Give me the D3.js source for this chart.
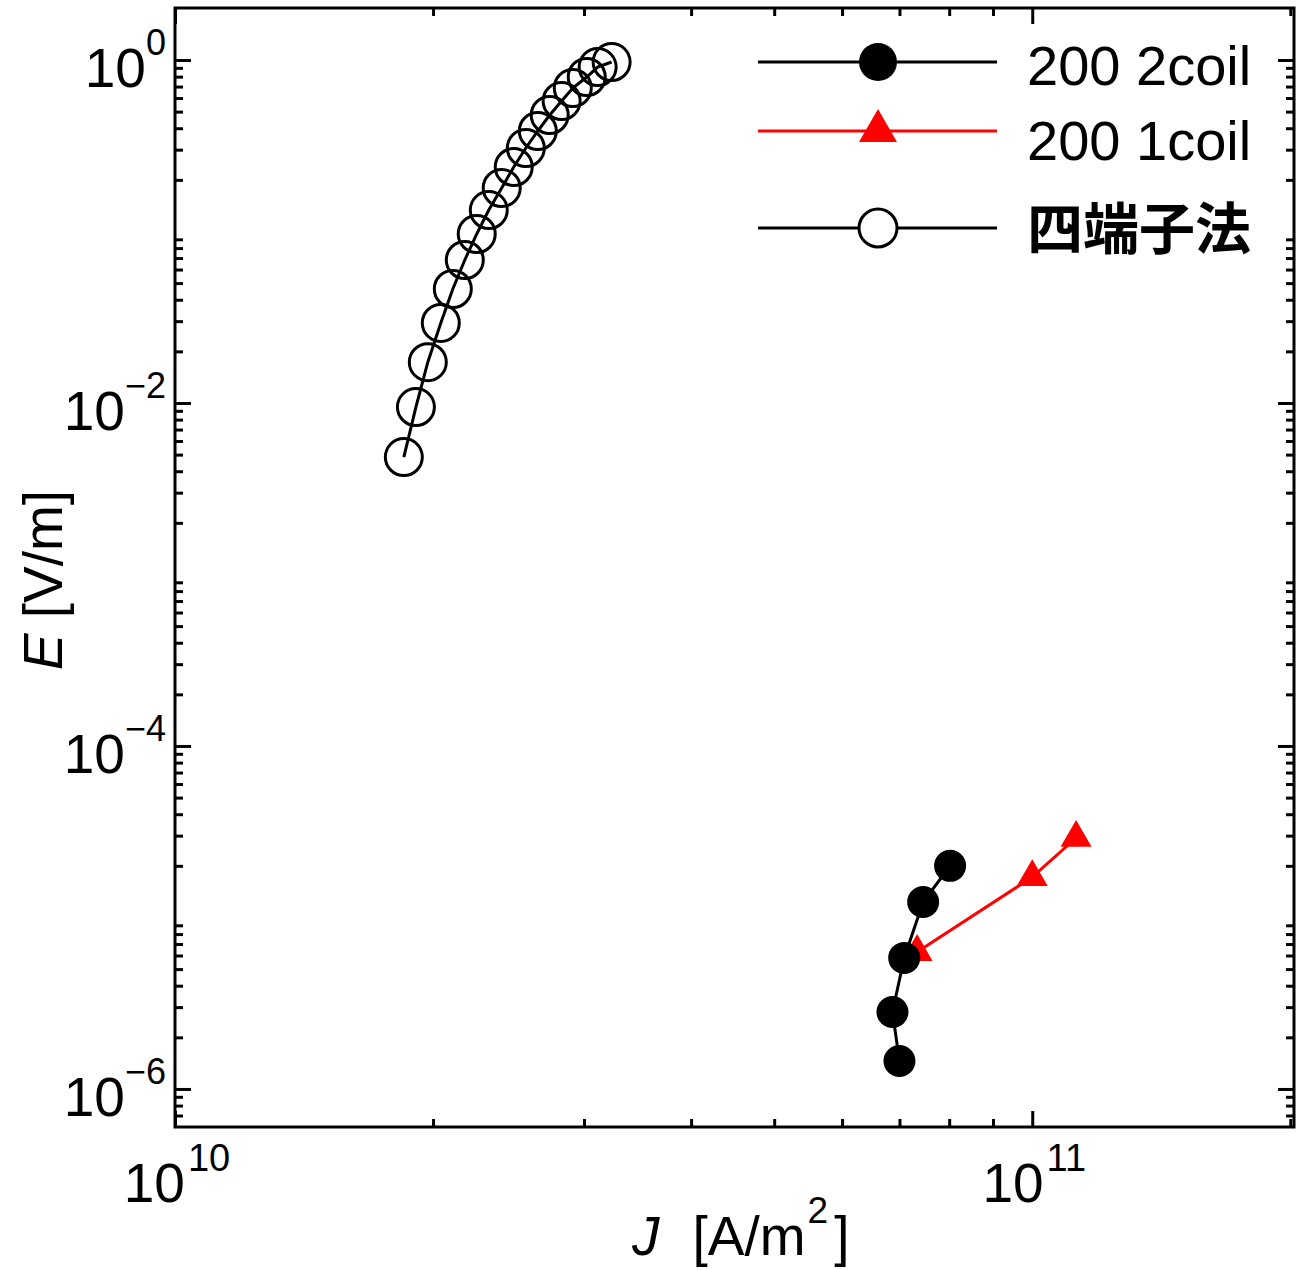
<!DOCTYPE html>
<html>
<head>
<meta charset="utf-8">
<script src="https://cdn.jsdelivr.net/npm/d3@7"></script>
<style>
  html, body { margin: 0; padding: 0; background: #fff; }
  svg { display: block; }
  text { font-family: "Liberation Sans", Arial, sans-serif; fill: #000; }
</style>
</head>
<body>
<svg id="chart" width="1300" height="1270"></svg>
<script>
// ---- data ----
const fourProbeJ = [1.849e10, 1.910e10, 1.972e10, 2.042e10, 2.109e10, 2.178e10, 2.249e10, 2.323e10, 2.405e10,
                    2.484e10, 2.566e10, 2.650e10, 2.736e10, 2.825e10, 2.911e10, 3.022e10, 3.112e10, 3.231e10];
const fourProbeE = [4.84e-3, 9.47e-3, 1.73e-2, 2.93e-2, 4.62e-2, 6.82e-2, 9.67e-2, 0.1334, 0.1793,
                    0.2377, 0.3068, 0.3855, 0.4778, 0.5767, 0.6866, 0.796, 0.910, 0.973];
const coil2J = [7.00e10, 6.87e10, 7.09e10, 7.46e10, 8.02e10];
const coil2E = [1.456e-6, 2.81e-6, 5.81e-6, 1.23e-5, 2.00e-5];
const coil1J = [7.34e10, 1.00e11, 1.125e11];
const coil1E = [6.29e-6, 1.72e-5, 2.91e-5];

const seriesNames = ["200 2coil", "200 1coil", "四端子法"];
const xMajorTicks = [1e10, 1e11];
const xTickExp = ["10", "11"];
const yMajorTicks = [1, 1e-2, 1e-4, 1e-6];
const yTickExp = ["0", "\u22122", "\u22124", "\u22126"];
const xDomain = [1e10, 2.02e11];
const yDomain = [6e-7, 2.01];

// ---- layout ----
const L = 175, R = 1294, T = 8, B = 1127;
const svg = d3.select("#chart");
const x = d3.scaleLog().domain(xDomain).range([L, R]);
const y = d3.scaleLog().domain(yDomain).range([B, T]);

// minor ticks
function minorTicks(dom) {
  const out = [];
  const lo = Math.floor(Math.log10(dom[0])), hi = Math.ceil(Math.log10(dom[1]));
  for (let e = lo; e <= hi; e++) {
    for (let k = 2; k <= 9; k++) {
      const v = k * Math.pow(10, e);
      if (v > dom[0] * 1.001 && v < dom[1] * 0.995) out.push(v);
    }
  }
  return out;
}
const xMinor = minorTicks(xDomain);
const yMinor = minorTicks(yDomain);

function styleAxis(g) {
  g.select(".domain").remove();
  g.selectAll(".tick line").attr("stroke", "#000").attr("stroke-width", 3);
  g.selectAll(".tick text").remove();
}

// bottom
svg.append("g").attr("transform", `translate(0,${B})`)
  .call(d3.axisBottom(x).tickValues(xMajorTicks).tickSize(-16).tickFormat("")).call(styleAxis);
svg.append("g").attr("transform", `translate(0,${B})`)
  .call(d3.axisBottom(x).tickValues(xMinor).tickSize(-8).tickFormat("")).call(styleAxis);
// top
svg.append("g").attr("transform", `translate(0,${T})`)
  .call(d3.axisTop(x).tickValues(xMajorTicks).tickSize(-16).tickFormat("")).call(styleAxis);
svg.append("g").attr("transform", `translate(0,${T})`)
  .call(d3.axisTop(x).tickValues(xMinor).tickSize(-8).tickFormat("")).call(styleAxis);
// left
svg.append("g").attr("transform", `translate(${L},0)`)
  .call(d3.axisLeft(y).tickValues(yMajorTicks).tickSize(-16).tickFormat("")).call(styleAxis);
svg.append("g").attr("transform", `translate(${L},0)`)
  .call(d3.axisLeft(y).tickValues(yMinor).tickSize(-8).tickFormat("")).call(styleAxis);
// right
svg.append("g").attr("transform", `translate(${R},0)`)
  .call(d3.axisRight(y).tickValues(yMajorTicks).tickSize(-16).tickFormat("")).call(styleAxis);
svg.append("g").attr("transform", `translate(${R},0)`)
  .call(d3.axisRight(y).tickValues(yMinor).tickSize(-8).tickFormat("")).call(styleAxis);

// frame
svg.append("rect").attr("x", L).attr("y", T).attr("width", R - L).attr("height", B - T)
  .attr("fill", "none").attr("stroke", "#000").attr("stroke-width", 3);

// tick labels
const yl = svg.append("g");
yMajorTicks.forEach((v, i) => {
  const t = yl.append("text").attr("x", 166).attr("y", y(v) + 27).attr("text-anchor", "end");
  t.append("tspan").attr("font-size", 55).text("10");
  t.append("tspan").attr("font-size", 36).attr("dy", -32).text(yTickExp[i]);
});
const xl = svg.append("g");
xMajorTicks.forEach((v, i) => {
  const t = xl.append("text").attr("x", x(v) + 2).attr("y", B + 75).attr("text-anchor", "middle");
  t.append("tspan").attr("font-size", 55).text("10");
  t.append("tspan").attr("font-size", 38).attr("dx", 3).attr("dy", -31).text(xTickExp[i]);
});

// axis titles
const xt = svg.append("text").attr("x", 632).attr("y", 1255).attr("font-size", 55);
xt.append("tspan").attr("font-style", "italic").text("J");
xt.append("tspan").attr("dx", 33).text("[A/m");
xt.append("tspan").attr("font-size", 37).attr("dx", 2).attr("dy", -32).text("2");
xt.append("tspan").attr("dx", 6).attr("dy", 32).text("]");

const yt = svg.append("text").attr("transform", "translate(62,580) rotate(-90)")
  .attr("text-anchor", "middle").attr("font-size", 55);
yt.append("tspan").attr("font-style", "italic").text("E");
yt.append("tspan").text(" [V/m]");

// data
const line = d3.line().x(d => x(d[0])).y(d => y(d[1]));
const fp = fourProbeJ.map((j, i) => [j, fourProbeE[i]]);
const c2 = coil2J.map((j, i) => [j, coil2E[i]]);
const c1 = coil1J.map((j, i) => [j, coil1E[i]]);

svg.append("path").datum(fp).attr("d", line).attr("fill", "none").attr("stroke", "#000").attr("stroke-width", 3);
svg.append("g").selectAll("circle").data(fp).join("circle")
  .attr("cx", d => x(d[0])).attr("cy", d => y(d[1])).attr("r", 18.5)
  .attr("fill", "none").attr("stroke", "#000").attr("stroke-width", 3);

svg.append("path").datum(c1).attr("d", line).attr("fill", "none").attr("stroke", "#ff0000").attr("stroke-width", 3);
const tri = d3.symbol().type(d3.symbolTriangle).size(416);
svg.append("g").selectAll("path").data(c1).join("path")
  .attr("d", tri).attr("transform", d => `translate(${x(d[0])},${y(d[1])})`).attr("fill", "#ff0000");

svg.append("path").datum(c2).attr("d", line).attr("fill", "none").attr("stroke", "#000").attr("stroke-width", 3);
svg.append("g").selectAll("circle").data(c2).join("circle")
  .attr("cx", d => x(d[0])).attr("cy", d => y(d[1])).attr("r", 16).attr("fill", "#000");

// legend
const lg = svg.append("g");
const rows = [
  {name: seriesNames[0], ly: 62, ty: 85, color: "#000", mark: "dot"},
  {name: seriesNames[1], ly: 131, ty: 160, color: "#ff0000", mark: "tri"},
  {name: seriesNames[2], ly: 228, ty: 249, color: "#000", mark: "open"}
];
rows.forEach(r => {
  lg.append("line").attr("x1", 758).attr("x2", 997).attr("y1", r.ly).attr("y2", r.ly)
    .attr("stroke", r.color).attr("stroke-width", 3);
  if (r.mark === "dot") lg.append("circle").attr("cx", 878).attr("cy", r.ly).attr("r", 19).attr("fill", "#000");
  if (r.mark === "tri") lg.append("path").attr("d", d3.symbol().type(d3.symbolTriangle).size(625)())
    .attr("transform", `translate(878,${r.ly})`).attr("fill", "#ff0000");
  if (r.mark === "open") lg.append("circle").attr("cx", 878).attr("cy", r.ly).attr("r", 19)
    .attr("fill", "#fff").attr("stroke", "#000").attr("stroke-width", 3);
  const t = lg.append("text").attr("x", 1027).attr("y", r.ty).attr("font-size", r.mark === "open" ? 56 : 56).text(r.name);
  if (r.mark === "open") t.style("font-family", "'Noto Sans CJK JP', sans-serif").attr("font-weight", "bold");
});
</script>
</body>
</html>
